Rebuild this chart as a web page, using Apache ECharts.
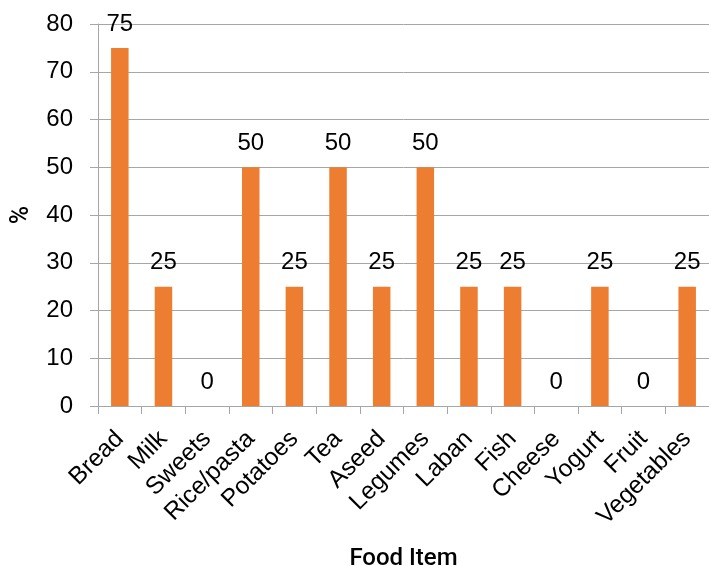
<!DOCTYPE html>
<html>
<head>
<meta charset="utf-8">
<script src="https://cdn.jsdelivr.net/npm/echarts@6/dist/echarts.min.js"></script>
<style>
html,body{margin:0;padding:0;background:#fff;}
#chart{width:709px;height:566px;}
</style>
</head>
<body>
<div id="chart"></div>
<script>
const categories = ["Bread","Milk","Sweets","Rice/pasta","Potatoes","Tea","Aseed","Legumes","Laban","Fish","Cheese","Yogurt","Fruit","Vegetables"];
const values = [75,25,0,50,25,50,25,50,25,25,0,25,0,25];
const yTicks = {min:0, max:80, interval:10};

const chart = echarts.init(document.getElementById('chart'), null, {renderer:'canvas'});
const numFont = '"Liberation Sans", Arial, sans-serif';
chart.setOption({
  animation:false,
  grid:{left:98, right:0, top:24, bottom:160, containLabel:false, outerBoundsMode:'none'},
  xAxis:{
    type:'category',
    data:categories,
    name:'Food Item',
    nameLocation:'middle',
    nameGap:141,
    nameTextStyle:{fontFamily:'Roboto', fontWeight:500, fontSize:24, color:'#000'},
    axisLine:{lineStyle:{color:'#A6A6A6', width:1}},
    axisTick:{show:true, length:8, lineStyle:{color:'#A6A6A6'}},
    axisLabel:{rotate:45, margin:29, fontSize:24.5, fontFamily:numFont, color:'#000', interval:0}
  },
  yAxis:{
    type:'value',
    min:yTicks.min, max:yTicks.max, interval:yTicks.interval,
    name:'%',
    nameLocation:'middle',
    nameGap:64,
    nameTextStyle:{fontFamily:'Roboto', fontWeight:500, fontSize:25, color:'#000'},
    axisLine:{show:true, lineStyle:{color:'#A6A6A6', width:1}},
    axisTick:{show:true, length:8, lineStyle:{color:'#A6A6A6'}},
    axisLabel:{margin:25, fontSize:24, fontFamily:numFont, color:'#000'},
    splitLine:{show:true, lineStyle:{color:'#A6A6A6', width:1}}
  },
  series:[{
    type:'bar',
    data:values,
    barWidth:17.5,
    itemStyle:{color:'#ED7D31'},
    label:{show:true, position:'top', distance:12, fontSize:24, fontFamily:numFont, color:'#000'}
  }]
});
</script>
</body>
</html>
